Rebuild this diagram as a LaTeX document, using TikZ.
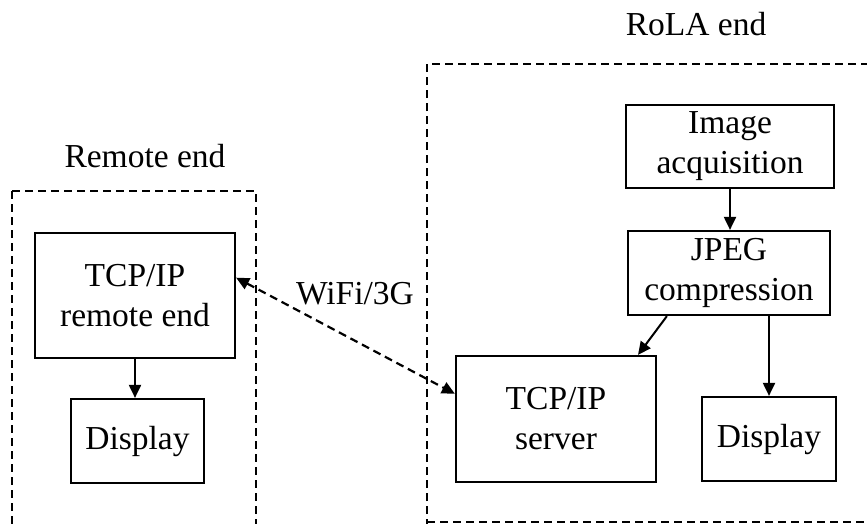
\documentclass[tikz,border=0pt]{standalone}
\usepackage{fontspec}
\setmainfont{Liberation Serif}
\usetikzlibrary{arrows.meta}
\begin{document}
\begin{tikzpicture}[x=1pt,y=-1pt,
  font=\fontsize{33.5}{40}\selectfont,
  blk/.style={draw,line width=2.2pt,align=center,inner sep=0pt},
  grp/.style={draw,line width=2pt,dash pattern=on 8pt off 5pt},
  arr/.style={line width=2pt,-{Triangle[length=13pt,width=12pt]}},
  link/.style={line width=2.2pt,dash pattern=on 8pt off 5pt,{Triangle[length=13pt,width=12pt]}-{Triangle[length=13pt,width=12pt]}}]
\useasboundingbox (0,0) rectangle (867,523);
\begin{scope}
\clip (0,0) rectangle (867,523);
\draw[grp] (12,191) -- (256,191) -- (256,540);
\draw[grp] (12,191) -- (12,540);
\draw[grp] (427,540) -- (427,64) -- (880,64);
\draw[grp] (427,522) -- (880,522);
\end{scope}
\node (lblR) at (145,156) {Remote end};
\node (lblL) at (696,24) {RoLA end};
\node (wifi) at (355,294) {WiFi/3G};
\node[blk,minimum width=200pt,minimum height=125pt] (remote) at (135,295.5) {TCP/IP\\remote end};
\node[blk,minimum width=133pt,minimum height=84pt] (dispL) at (137.5,441) {Display};
\node[blk,minimum width=208pt,minimum height=83pt] (img) at (730,146.5) {Image\\acquisition};
\node[blk,minimum width=202pt,minimum height=84pt] (jpeg) at (729,273) {JPEG\\compression};
\node[blk,minimum width=200pt,minimum height=126pt] (server) at (556,419) {TCP/IP\\server};
\node[blk,minimum width=134pt,minimum height=84pt] (dispR) at (769,439) {Display};
\draw[arr] (remote.south) -- (remote.south |- dispL.north);
\draw[arr] (img.south) -- (img.south |- jpeg.north);
\draw[arr] ([xshift=40pt]jpeg.south west) -- ([xshift=82pt]server.north);
\draw[arr] (dispR.north |- jpeg.south) -- (dispR.north);
\draw[link] (remote.10) -- (server.166);
\end{tikzpicture}
\end{document}
